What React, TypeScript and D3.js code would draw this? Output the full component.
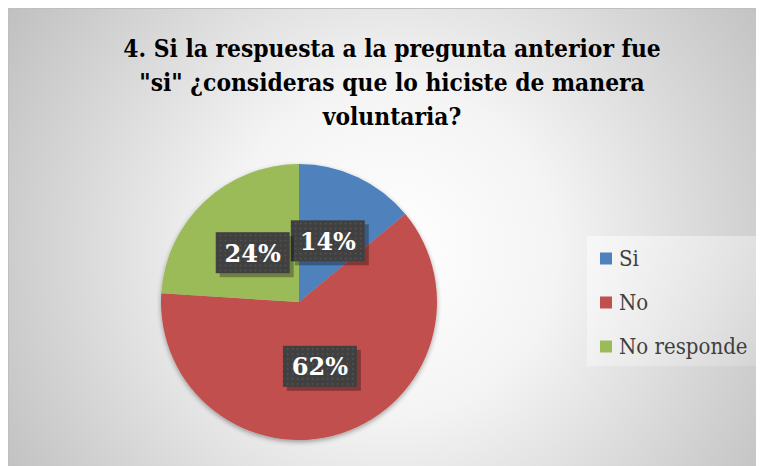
import React from "react";
import * as d3 from "d3";

const titleLines = [
  "4. Si la respuesta a la pregunta anterior fue",
  "\"si\" ¿consideras que lo hiciste de manera",
  "voluntaria?",
];
const categories = ["Si", "No", "No responde"];
const values = [14, 62, 24];
const colors = ["#4f81bd", "#c0504d", "#9bbb59"];

const W = 764;
const H = 466;
const CX = 299;
const CY = 302;
const R = 138;
const SERIF_C = "DejaVu Serif Condensed, DejaVu Serif, serif";
const SERIF2 = "DejaVu Serif, serif";

export default function App() {
  const total = d3.sum(values);
  const pie = d3.pie<number>().sort(null).value((d) => d);
  const arcs = pie(values);
  const arc = d3.arc<d3.PieArcDatum<number>>().innerRadius(0).outerRadius(R);
  const labelArc = d3
    .arc<d3.PieArcDatum<number>>()
    .innerRadius(R * 0.49)
    .outerRadius(R * 0.49);
  const fmt = d3.format(".0%");
  const boxW = 74;
  const boxH = 41;

  return (
    <svg width={W - 8} height={H - 8} style={{ display: "block" }}>
      <defs>
        <radialGradient id="bg" gradientUnits="userSpaceOnUse" cx={392} cy={250} r={470}>
          <stop offset="0" stopColor="#ffffff" />
          <stop offset="0.35" stopColor="#f4f4f4" />
          <stop offset="1" stopColor="#bdbdbd" />
        </radialGradient>
        <linearGradient id="leg" x1="0" y1="0" x2="1" y2="1">
          <stop offset="0" stopColor="#ffffff" stopOpacity={0.55} />
          <stop offset="1" stopColor="#ffffff" stopOpacity={0.15} />
        </linearGradient>
        <pattern id="dots" width={5} height={5} patternUnits="userSpaceOnUse">
          <rect width={5} height={5} fill="#404040" />
          <rect x={2} y={2} width={1.4} height={1.4} fill="#5a5a5a" />
        </pattern>
        <filter id="pieShadow" x="-20%" y="-20%" width="140%" height="140%">
          <feGaussianBlur in="SourceAlpha" stdDeviation={2.5} />
          <feOffset dx={0} dy={2} result="b" />
          <feComponentTransfer>
            <feFuncA type="linear" slope={0.35} />
          </feComponentTransfer>
          <feMerge>
            <feMergeNode />
            <feMergeNode in="SourceGraphic" />
          </feMerge>
        </filter>
      </defs>
      <g transform="translate(-8,-8)">
        <rect x={8.5} y={8.5} width={W} height={H} fill="url(#bg)" stroke="#bfbfbf" strokeWidth={1} />
        <g
          style={{ fontFamily: SERIF_C, fontWeight: "bold", fontSize: "24.3px", fontStretch: "condensed" }}
          fill="#000"
          textAnchor="middle"
        >
          {titleLines.map((t, i) => (
            <text key={i} x={392} y={57 + i * 34}>
              {t}
            </text>
          ))}
        </g>
        <g transform={`translate(${CX},${CY})`} filter="url(#pieShadow)">
          {arcs.map((a, i) => (
            <path key={i} d={arc(a) || ""} fill={colors[i]} />
          ))}
        </g>
        <g transform={`translate(${CX},${CY})`}>
          {arcs.map((a, i) => {
            const [lx, ly] = labelArc.centroid(a);
            return (
              <g key={i} transform={`translate(${lx},${ly})`}>
                <rect
                  x={-boxW / 2 + 4}
                  y={-boxH / 2 + 4}
                  width={boxW}
                  height={boxH}
                  fill="#000"
                  fillOpacity={0.3}
                />
                <rect x={-boxW / 2} y={-boxH / 2} width={boxW} height={boxH} fill="url(#dots)" />
                <text
                  x={0}
                  y={9}
                  textAnchor="middle"
                  fill="#ffffff"
                  style={{ fontFamily: SERIF2, fontWeight: "bold", fontSize: "24px" }}
                >
                  {fmt(values[i] / total)}
                </text>
              </g>
            );
          })}
        </g>
        <rect x={587} y={236} width={175} height={130} fill="url(#leg)" />
        {categories.map((c, i) => (
          <g key={c} transform={`translate(600,${258.5 + i * 44})`}>
            <rect x={0} y={-6} width={12} height={12} fill={colors[i]} />
            <text
              x={19}
              y={7.5}
              fill="#404040"
              style={{ fontFamily: SERIF_C, fontSize: "22px", fontStretch: "condensed" }}
            >
              {c}
            </text>
          </g>
        ))}
      </g>
    </svg>
  );
}
